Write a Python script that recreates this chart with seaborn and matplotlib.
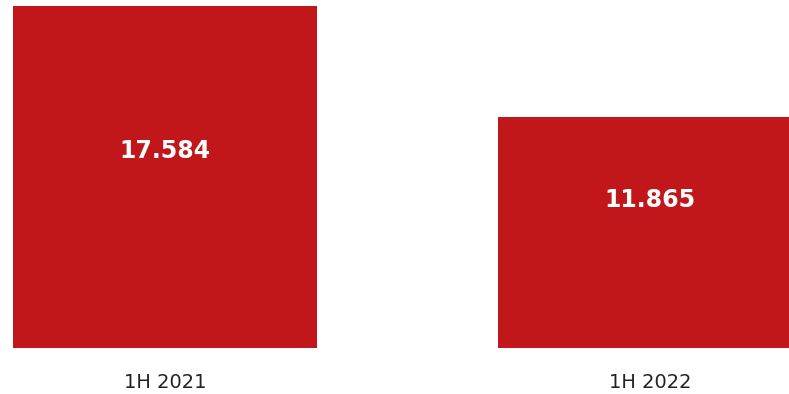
import matplotlib
matplotlib.use("Agg")
import matplotlib.pyplot as plt
import seaborn as sns
import pandas as pd

categories = ["1H 2021", "1H 2022"]
values = [17.584, 11.865]
value_labels = ["17.584", "11.865"]
label_frac = [0.576, 0.641]

sns.set_theme(style="white")
plt.rcParams['font.family'] = ['DejaVu Sans']

df = pd.DataFrame({"cat": categories, "val": values})

fig = plt.figure(figsize=(7.89, 3.94), dpi=100)
ax = fig.add_axes([0, (394 - 348) / 394, 1, 348 / 394])

sns.barplot(data=df, x="cat", y="val", color="#C1171A", saturation=1,
            width=0.627, ax=ax, edgecolor="none")

ax.set_xlim(-165 / 485, (789 - 165) / 485)
ax.set_ylim(0, values[0] * 348 / 342)

for i, (v, lab, f) in enumerate(zip(values, value_labels, label_frac)):
    ax.text(i, v * f, lab, ha="center", va="center", color="white",
            fontsize=17, fontweight="bold", family="DejaVu Sans")

ax.set_xlabel("")
ax.set_ylabel("")
ax.set_yticks([])
ax.tick_params(axis="x", length=0, pad=18, labelsize=14, labelcolor="#222222")
for s in ax.spines.values():
    s.set_visible(False)

fig.savefig("out.png", dpi=100)
